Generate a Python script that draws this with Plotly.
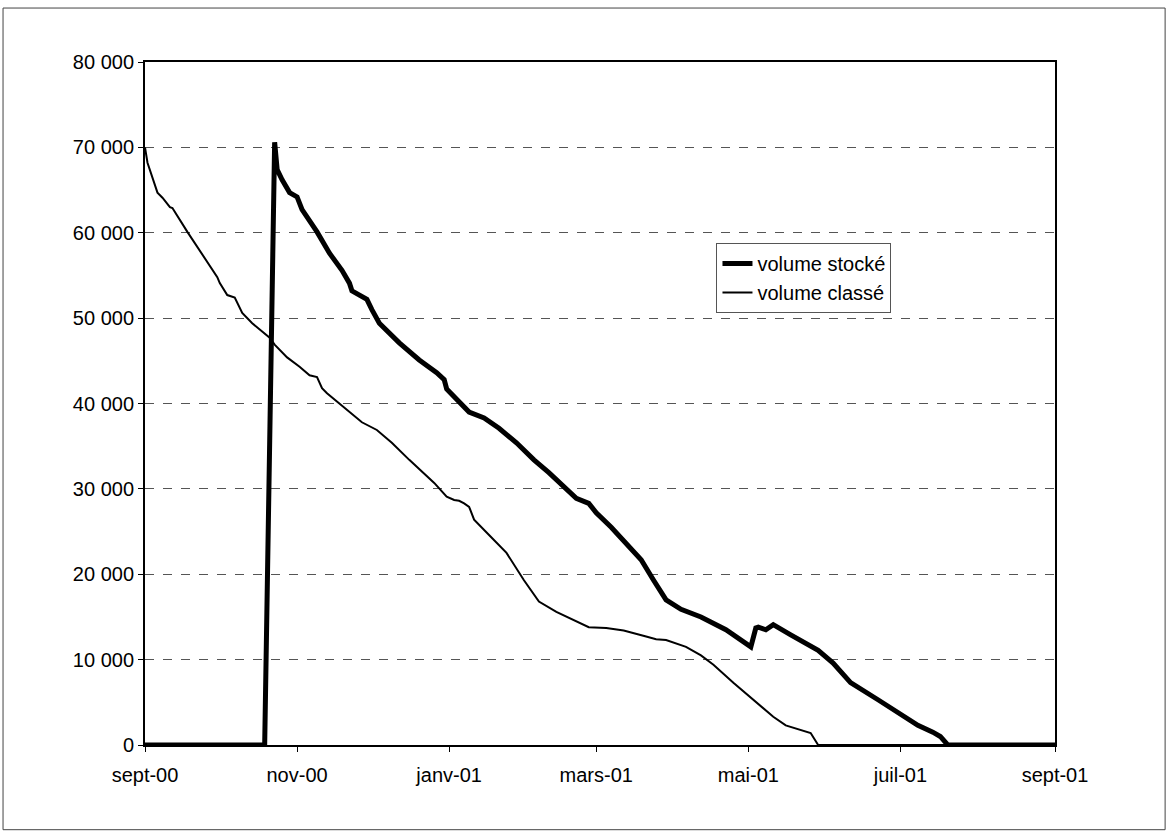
import plotly.graph_objects as go

# volume stocké (thick line)
stocke_dates = [
    "2000-09-01", "2000-10-19", "2000-10-23", "2000-10-24", "2000-10-26", "2000-10-29",
    "2000-11-01", "2000-11-03", "2000-11-09", "2000-11-14", "2000-11-19", "2000-11-22",
    "2000-11-23", "2000-11-29", "2000-12-01", "2000-12-04", "2000-12-12", "2000-12-20",
    "2000-12-27", "2000-12-30", "2000-12-31", "2001-01-05", "2001-01-09", "2001-01-15",
    "2001-01-21", "2001-01-28", "2001-02-04", "2001-02-10", "2001-02-16", "2001-02-21",
    "2001-02-26", "2001-03-01", "2001-03-07", "2001-03-11", "2001-03-19", "2001-03-24",
    "2001-03-29", "2001-04-04", "2001-04-12", "2001-04-22", "2001-05-02", "2001-05-04",
    "2001-05-05", "2001-05-08", "2001-05-11", "2001-05-18", "2001-05-29", "2001-06-04",
    "2001-06-11", "2001-06-22", "2001-07-01", "2001-07-08", "2001-07-14", "2001-07-17",
    "2001-07-20", "2001-09-01",
]
stocke_values = [
    0, 0, 70600, 67400, 66200, 64700,
    64200, 62700, 60100, 57600, 55600, 54100,
    53200, 52200, 51000, 49400, 47100, 45100,
    43600, 42800, 41700, 40200, 39000, 38300,
    37100, 35400, 33400, 31900, 30200, 28900,
    28300, 27200, 25500, 24200, 21700, 19300,
    17000, 15900, 15000, 13500, 11500, 13700,
    13800, 13500, 14100, 12900, 11100, 9600,
    7300, 5300, 3700, 2300, 1500, 1000,
    0, 0,
]

# volume classé (thin line)
classe_dates = [
    "2000-09-01", "2000-09-02", "2000-09-06", "2000-09-08", "2000-09-11", "2000-09-12",
    "2000-09-18", "2000-09-30", "2000-10-01", "2000-10-04", "2000-10-07", "2000-10-10",
    "2000-10-14", "2000-10-21", "2000-10-23", "2000-10-28", "2000-11-02", "2000-11-06",
    "2000-11-09", "2000-11-11", "2000-11-13", "2000-11-21", "2000-11-27", "2000-12-03",
    "2000-12-09", "2000-12-16", "2000-12-26", "2000-12-31", "2001-01-03", "2001-01-05",
    "2001-01-07", "2001-01-09", "2001-01-11", "2001-01-17", "2001-01-24", "2001-01-31",
    "2001-02-06", "2001-02-13", "2001-02-20", "2001-02-26", "2001-03-05", "2001-03-12",
    "2001-03-21", "2001-03-25", "2001-03-29", "2001-04-06", "2001-04-12", "2001-04-17",
    "2001-04-25", "2001-05-03", "2001-05-11", "2001-05-16", "2001-05-22", "2001-05-26",
    "2001-05-29", "2001-09-01",
]
classe_values = [
    70000, 68200, 64700, 64100, 63000, 62900,
    60100, 54800, 54100, 52700, 52400, 50600,
    49400, 47700, 46900, 45400, 44300, 43300,
    43100, 41800, 41200, 39200, 37800, 36900,
    35400, 33400, 30700, 29100, 28700, 28600,
    28300, 27900, 26400, 24600, 22500, 19300,
    16800, 15600, 14600, 13800, 13700, 13400,
    12700, 12400, 12300, 11500, 10500, 9400,
    7300, 5300, 3300, 2300, 1800, 1400,
    0, 0,
]

x_tick_vals = ["2000-09-01", "2000-11-01", "2001-01-01", "2001-03-01",
               "2001-05-01", "2001-07-01", "2001-09-01"]
x_tick_text = ["sept-00", "nov-00", "janv-01", "mars-01", "mai-01", "juil-01", "sept-01"]
y_tick_vals = [0, 10000, 20000, 30000, 40000, 50000, 60000, 70000, 80000]
y_tick_text = ["0", "10 000", "20 000", "30 000", "40 000", "50 000",
               "60 000", "70 000", "80 000"]

font_family = "Arial, 'Liberation Sans', sans-serif"

fig = go.Figure()
fig.add_trace(go.Scatter(
    x=stocke_dates, y=stocke_values, mode="lines", name="volume stocké",
    line=dict(color="black", width=5),
))
fig.add_trace(go.Scatter(
    x=classe_dates, y=classe_values, mode="lines", name="volume classé",
    line=dict(color="black", width=2),
))

fig.update_layout(
    width=1168, height=835,
    margin=dict(l=145, r=113, t=62, b=90),
    paper_bgcolor="white", plot_bgcolor="white",
    font=dict(family=font_family, size=20, color="black"),
    showlegend=True,
    legend=dict(
        x=0.628, y=0.735, xanchor="left", yanchor="top",
        bgcolor="white", bordercolor="#555555", borderwidth=1,
        font=dict(family=font_family, size=20, color="black"),
        tracegroupgap=2,
    ),
    shapes=[dict(
        type="rect", xref="paper", yref="paper",
        x0=-0.156, x1=1.121, y0=-0.124, y1=1.079,
        line=dict(color="#444444", width=1),
    )],
)
fig.update_xaxes(
    type="date", range=["2000-09-01", "2001-09-01"],
    tickmode="array", tickvals=x_tick_vals, ticktext=x_tick_text,
    showgrid=False, zeroline=False,
    showline=True, linecolor="black", linewidth=2, mirror=True,
    ticks="outside", ticklen=5, tickcolor="black",
    ticklabelstandoff=6,
    tickfont=dict(family=font_family, size=20, color="black"),
)
fig.update_yaxes(
    range=[0, 80000],
    tickmode="array", tickvals=y_tick_vals, ticktext=y_tick_text,
    showgrid=True, gridcolor="#555555", gridwidth=1, griddash="dash",
    zeroline=False,
    showline=True, linecolor="black", linewidth=2, mirror=True,
    ticks="outside", ticklen=5, tickcolor="black",
    tickfont=dict(family=font_family, size=20, color="black"),
)

fig.write_html("out.html")
